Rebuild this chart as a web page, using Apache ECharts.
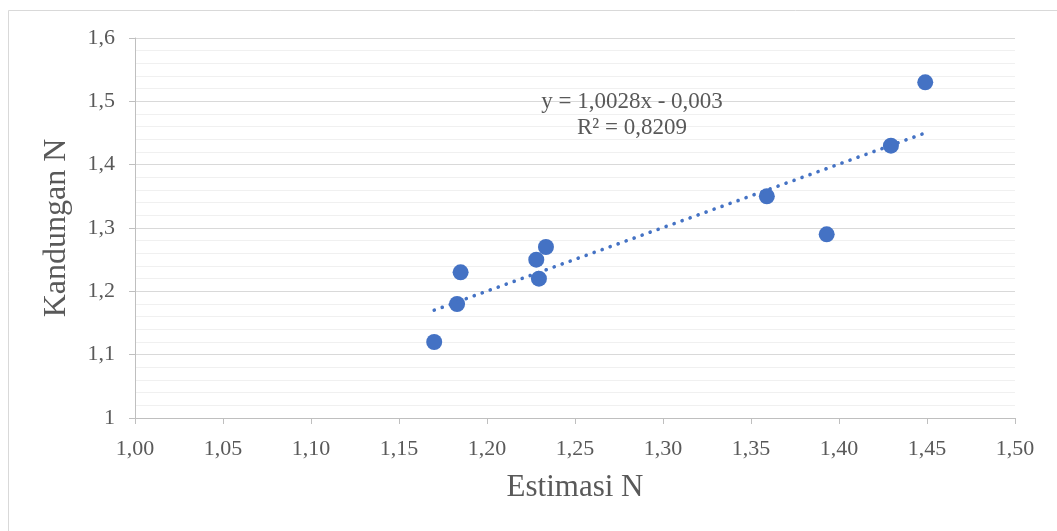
<!DOCTYPE html>
<html>
<head>
<meta charset="utf-8">
<script src="https://cdn.jsdelivr.net/npm/echarts@6/dist/echarts.min.js"></script>
<style>
html,body{margin:0;padding:0;background:#fff;}
#c{width:1057px;height:531px;}
</style>
</head>
<body>
<div id="c"></div>
<script>
// Data
const estimasiN   = [1.170, 1.183, 1.185, 1.228, 1.2295, 1.2335, 1.359, 1.393, 1.4295, 1.449];
const kandunganN  = [1.12, 1.18, 1.23, 1.25, 1.22, 1.27, 1.35, 1.29, 1.43, 1.53];
const trendSlope = 1.0028;
const trendIntercept = -0.003;
const trendRangeX = [1.17, 1.45];
const xTickLabels = ['1,00','1,05','1,10','1,15','1,20','1,25','1,30','1,35','1,40','1,45','1,50'];
const yTickLabels = ['1','1,1','1,2','1,3','1,4','1,5','1,6'];
const equationText = 'y = 1,0028x - 0,003';
const r2Text = 'R² = 0,8209';
const xTitle = 'Estimasi N';
const yTitle = 'Kandungan N';

const FONT = '"Liberation Serif", "Times New Roman", serif';
const TXT = '#595959';

const points = estimasiN.map((x, i) => [x, kandunganN[i]]);
const trend = trendRangeX.map(x => [x, trendSlope * x + trendIntercept]);

const chart = echarts.init(document.getElementById('c'), null, {renderer: 'canvas'});
chart.setOption({
  backgroundColor: '#fff',
  animation: false,
  grid: {left: 135, right: 42, top: 38, bottom: 113, containLabel: false},
  graphic: [
    {type: 'rect', left: 6, top: 8, shape: {x: 0, y: 0, width: 1200, height: 700},
     style: {fill: 'none', stroke: '#d9d9d9', lineWidth: 1}, silent: true, z: -10},
    {type: 'text', x: 632, y: 89, z: 100,
     style: {text: equationText + '\n' + r2Text, fill: TXT, font: '23px ' + FONT,
             textAlign: 'center', textVerticalAlign: 'top', lineHeight: 26}}
  ],
  xAxis: {
    type: 'value', min: 1, max: 1.5, interval: 0.05,
    name: xTitle, nameLocation: 'middle', nameGap: 54,
    nameTextStyle: {color: TXT, fontFamily: FONT, fontSize: 31},
    axisLine: {show: true, lineStyle: {color: '#bfbfbf', width: 1}},
    axisTick: {show: true, length: 6, lineStyle: {color: '#bfbfbf'}},
    axisLabel: {color: TXT, fontFamily: FONT, fontSize: 22, margin: 20,
      formatter: v => xTickLabels[Math.round((v - 1) / 0.05)]},
    splitLine: {show: false}
  },
  yAxis: {
    type: 'value', min: 1, max: 1.6, interval: 0.1,
    name: yTitle, nameLocation: 'middle', nameGap: 62, nameRotate: 90,
    nameTextStyle: {color: TXT, fontFamily: FONT, fontSize: 32},
    axisLine: {show: true, lineStyle: {color: '#bfbfbf', width: 1}},
    axisTick: {show: true, length: 6, lineStyle: {color: '#bfbfbf'}},
    axisLabel: {color: TXT, fontFamily: FONT, fontSize: 22, margin: 20,
      formatter: v => yTickLabels[Math.round((v - 1) / 0.1)]},
    splitLine: {show: true, lineStyle: {color: '#d9d9d9', width: 1}},
    minorTick: {show: false, splitNumber: 5},
    minorSplitLine: {show: true, lineStyle: {color: '#f0f0f0', width: 1}}
  },
  series: [
    {type: 'scatter', data: points, symbol: 'circle', symbolSize: 16,
     itemStyle: {color: '#4472C4', opacity: 1}, z: 2},
    {type: 'line', data: trend, showSymbol: false, symbol: 'none', z: 3,
     lineStyle: {color: '#4472C4', width: 3.6, type: [0.1, 8.4], cap: 'round'}}
  ]
});
</script>
</body>
</html>
